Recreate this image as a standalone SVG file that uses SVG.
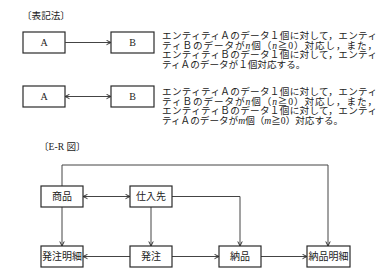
<svg xmlns="http://www.w3.org/2000/svg" width="383" height="278" viewBox="0 0 383 278">
<style>
.box{fill:#fff;stroke:#2a2a2a;stroke-width:1.2}
.ln{fill:none;stroke:#444;stroke-width:1}
.lbl{font-family:"Noto Sans CJK JP",sans-serif;font-size:10px;fill:#222;text-anchor:middle}
.ab{font-family:"Liberation Serif",serif;font-size:10px;fill:#222;text-anchor:middle}
.txt{font-family:"Liberation Serif","Noto Sans CJK JP",serif;font-size:9.6px;fill:#222}
.hd{font-family:"Liberation Serif","Noto Sans CJK JP",serif;font-size:9.6px;fill:#222}
.it{font-style:italic}
</style>
<defs>
<marker id="ah" markerUnits="userSpaceOnUse" markerWidth="6" markerHeight="6" refX="5" refY="3" orient="auto-start-reverse">
<path d="M0.5,0.8 L5,3 L0.5,5.2" fill="none" stroke="#333" stroke-width="1"/>
</marker>
</defs>
<text class="hd" x="22" y="19">〔表記法〕</text>
<g id="legend1-A"><rect class="box" x="23" y="32" width="42" height="21"/><text class="ab" x="44" y="46">A</text></g>
<g id="legend1-B"><rect class="box" x="111" y="32" width="43" height="21"/><text class="ab" x="132.5" y="46">B</text></g>
<g id="legend2-A"><rect class="box" x="23" y="86" width="42" height="21"/><text class="ab" x="44" y="100">A</text></g>
<g id="legend2-B"><rect class="box" x="111" y="86" width="43" height="21"/><text class="ab" x="132.5" y="100">B</text></g>
<g id="legend-text1" class="txt">
<text x="162" y="39" textLength="215" lengthAdjust="spacing">エンティティＡのデータ１個に対して，エンティ</text>
<text x="162" y="48.5" textLength="215" lengthAdjust="spacing">ティＢのデータが<tspan class="it">n</tspan>個（<tspan class="it">n</tspan>≧0）対応し，また，</text>
<text x="162" y="58" textLength="215" lengthAdjust="spacing">エンティティＢのデータ１個に対して，エンティ</text>
<text x="162" y="67.5">ティＡのデータが１個対応する。</text>
</g>
<g id="legend-text2" class="txt">
<text x="162" y="95" textLength="215" lengthAdjust="spacing">エンティティＡのデータ１個に対して，エンティ</text>
<text x="162" y="104.5" textLength="215" lengthAdjust="spacing">ティＢのデータが<tspan class="it">n</tspan>個（<tspan class="it">n</tspan>≧0）対応し，また，</text>
<text x="162" y="114" textLength="215" lengthAdjust="spacing">エンティティＢのデータ１個に対して，エンティ</text>
<text x="162" y="123.5">ティＡのデータが<tspan class="it">m</tspan>個（<tspan class="it">m</tspan>≧0）対応する。</text>
</g>
<text class="hd" x="39" y="149.5">〔E-R 図〕</text>
<g id="connectors">
<line class="ln" x1="65" y1="42.5" x2="111" y2="42.5" marker-end="url(#ah)"/>
<line class="ln" x1="65" y1="96.5" x2="111" y2="96.5" marker-start="url(#ah)" marker-end="url(#ah)"/>
<polyline class="ln" points="62,186 62,165 328,165 328,246" marker-end="url(#ah)"/>
<line class="ln" x1="83" y1="196.5" x2="130" y2="196.5" marker-start="url(#ah)" marker-end="url(#ah)"/>
<polyline class="ln" points="172,196.5 240,196.5 240,246" marker-end="url(#ah)"/>
<line class="ln" x1="151" y1="207" x2="151" y2="246" marker-end="url(#ah)"/>
<line class="ln" x1="62" y1="207" x2="62" y2="246" marker-end="url(#ah)"/>
<line class="ln" x1="130" y1="256.5" x2="83" y2="256.5" marker-end="url(#ah)"/>
<line class="ln" x1="172" y1="256.5" x2="219" y2="256.5" marker-end="url(#ah)"/>
<line class="ln" x1="261" y1="256.5" x2="307" y2="256.5" marker-end="url(#ah)"/>
</g>
<g id="shohin"><rect class="box" x="41" y="186" width="42" height="21"/><text class="lbl" x="62" y="200">商品</text></g>
<g id="shiiresaki"><rect class="box" x="130" y="186" width="42" height="21"/><text class="lbl" x="151" y="200">仕入先</text></g>
<g id="hacchu-meisai"><rect class="box" x="41" y="246" width="42" height="21"/><text class="lbl" x="62" y="260">発注明細</text></g>
<g id="hacchu"><rect class="box" x="130" y="246" width="42" height="21"/><text class="lbl" x="151" y="260">発注</text></g>
<g id="nohin"><rect class="box" x="219" y="246" width="42" height="21"/><text class="lbl" x="240" y="260">納品</text></g>
<g id="nohin-meisai"><rect class="box" x="307" y="246" width="43" height="21"/><text class="lbl" x="328.5" y="260">納品明細</text></g>
</svg>
